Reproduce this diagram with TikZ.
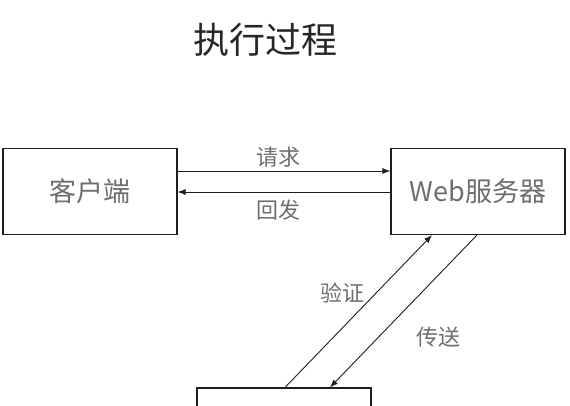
\documentclass[tikz,border=0pt]{standalone}
\usepackage{fontspec}
\setmainfont{Noto Sans CJK SC}
\usetikzlibrary{arrows.meta}

\definecolor{inkgray}{HTML}{6E6E6E}
\definecolor{linegray}{HTML}{1E1E1E}

\begin{document}
\begin{tikzpicture}[x=1pt,y=-1pt,
  box/.style={draw=linegray,line width=1.1pt,inner sep=0pt,minimum width=174pt,
    minimum height=86pt,text=inkgray,font=\fontsize{27}{30}\selectfont},
  lbl/.style={inner sep=0pt,text=inkgray,font=\fontsize{22}{24}\selectfont},
  flow/.style={draw=linegray,line width=0.9pt,-{Latex[length=8pt,width=6pt]}}]
\clip (0,0) rectangle (570,406);
\fill[white] (0,0) rectangle (570,406);

%%Title
\node[inner sep=0pt,text=black!85,font=\fontsize{36}{40}\selectfont] (title) at (265,40) {执行过程};

%%Boxes
\node[box] (client) at (90,191.5) {客户端};
\node[box] (server) at (478,191.5) {Web服务器};
\node[box] (lower) at (284,431) {};

%%Arrows
\draw[flow] ([yshift=20.5pt]client.east) -- ([yshift=20.5pt]server.west);
\draw[flow] ([yshift=-0.5pt]server.west) -- ([yshift=-0.5pt]client.east);
\draw[flow] ([xshift=1pt]lower.north) -- ([xshift=-46pt]server.south);
\draw[flow] ([xshift=-1pt]server.south) -- ([xshift=46pt]lower.north);

%%Label
\node[lbl] (ask) at (278,157) {请求};
\node[lbl] (back) at (278,210) {回发};
\node[lbl] (check) at (342,293) {验证};
\node[lbl] (send) at (438,337) {传送};
\end{tikzpicture}
\end{document}
